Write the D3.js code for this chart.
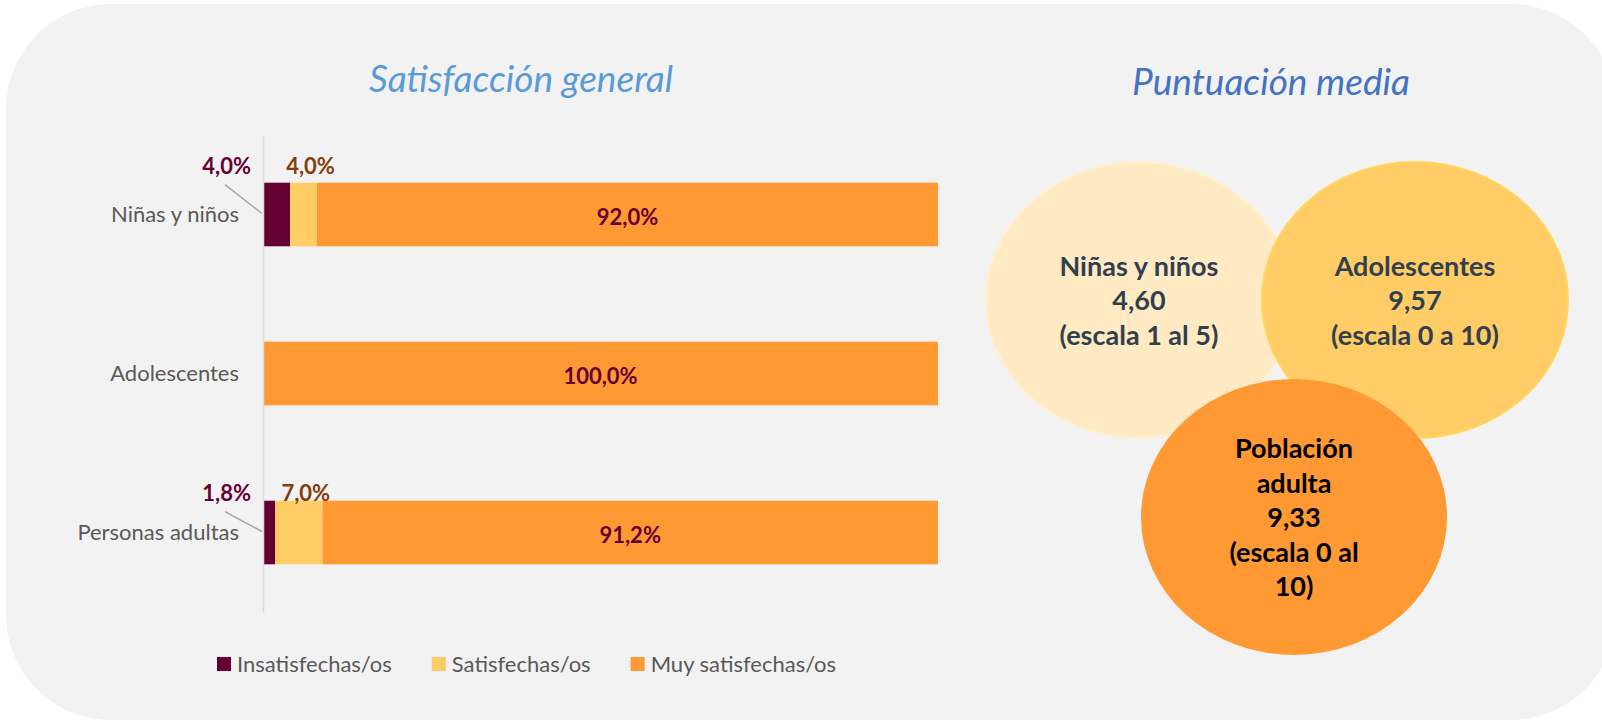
<!DOCTYPE html>
<html>
<head>
<meta charset="utf-8">
<script src="https://cdn.jsdelivr.net/npm/d3@7"></script>
<style>
  html, body { margin: 0; padding: 0; background: #fff; }
  svg { display: block; }
</style>
</head>
<body>
<script>
// データ
const categories = ["Niñas y niños", "Adolescentes", "Personas adultas"];
const seriesNames = ["Insatisfechas/os", "Satisfechas/os", "Muy satisfechas/os"];
const insatisfechas = [4.0, 0, 1.8];
const satisfechas = [4.0, 0, 7.0];
const muySatisfechas = [92.0, 100.0, 91.2];

const bubbleGroups = ["Niñas y niños", "Adolescentes", "Población\nadulta"];
const bubbleScores = [4.60, 9.57, 9.33];
const bubbleScales = ["(escala 1 al 5)", "(escala 0 a 10)", "(escala 0 al\n10)"];

// レイアウト
const width = 1602;
const height = 722;
const font = "Lato, 'Open Sans', sans-serif";
const barColors = ["#660033", "#ffcc66", "#ff9933"];
const smallLabelColors = ["#660033", "#843c0c"];
const labelLift = [9, 0, 0];
const bubbleLayout = [
  { cx: 1139, cy: 300, fill: "#ffeac3", stroke: "#fff0d4", text: "#323f4f" },
  { cx: 1415, cy: 300, fill: "#ffcc66", stroke: "#ffd65c", text: "#323f4f" },
  { cx: 1294, cy: 517, fill: "#ff9933", stroke: "none", text: "#000000" }
];

const svg = d3.select(document.body)
  .append("svg")
  .attr("width", width)
  .attr("height", height)
  .style("background", "#fff");

// 背景パネル
svg.append("rect")
  .attr("x", 6)
  .attr("y", 4)
  .attr("width", 1610)
  .attr("height", 716)
  .attr("rx", 105)
  .attr("fill", "#f2f2f2");

// ---- 左: 積み上げ横棒 ----
const rows = categories.map((c, i) => ({
  cat: c,
  [seriesNames[0]]: insatisfechas[i],
  [seriesNames[1]]: satisfechas[i],
  [seriesNames[2]]: muySatisfechas[i]
}));
const stacked = d3.stack().keys(seriesNames)(rows);

const x = d3.scaleLinear().domain([0, 100]).range([263, 938]);
const y = d3.scaleBand().domain(categories).range([135, 612])
  .paddingInner(0.6).paddingOuter(0.3);
const fmt = v => d3.format(".1f")(v).replace(".", ",") + "%";

svg.append("text")
  .attr("x", 521)
  .attr("y", 92)
  .attr("text-anchor", "middle")
  .attr("font-family", font)
  .attr("font-style", "italic")
  .attr("font-size", "37px")
  .attr("fill", "#5b9bd5")
  .text("Satisfacción general");

const barLayer = svg.append("g");
stacked.forEach((s, si) => {
  barLayer.selectAll(null)
    .data(s)
    .join("rect")
    .attr("x", d => x(d[0]))
    .attr("y", d => y(d.data.cat))
    .attr("width", d => x(d[1]) - x(d[0]))
    .attr("height", y.bandwidth())
    .attr("fill", barColors[si]);
});

// 軸
const axis = svg.append("g")
  .attr("transform", `translate(${x(0)},0)`)
  .call(d3.axisLeft(y).tickSize(0).tickSizeOuter(0).tickPadding(24));
axis.select(".domain").attr("stroke", "#d9d9d9").attr("stroke-width", 1.5);
axis.selectAll("text")
  .attr("font-family", font)
  .attr("font-size", "22px")
  .attr("fill", "#595959");

// 値ラベル
stacked.forEach((s, si) => {
  s.forEach((d, ci) => {
    const v = d[1] - d[0];
    if (v <= 0) return;
    const top = y(d.data.cat);
    const t = svg.append("text")
      .attr("font-family", font)
      .attr("font-weight", "bold")
      .attr("font-size", "22px")
      .text(fmt(v));
    if (si === 2) {
      t.attr("x", x((d[0] + d[1]) / 2))
        .attr("y", top + y.bandwidth() / 2 + 10)
        .attr("text-anchor", "middle")
        .attr("fill", "#660033");
    } else if (si === 0) {
      const base = top - labelLift[ci];
      t.attr("x", x(0) - 12)
        .attr("y", base)
        .attr("text-anchor", "end")
        .attr("fill", smallLabelColors[0]);
      // 引き出し線
      svg.append("line")
        .attr("x1", x(0) - 38)
        .attr("y1", base + 11)
        .attr("x2", x(0) - 1)
        .attr("y2", top + y.bandwidth() / 2 - 1)
        .attr("stroke", "#a6a6a6")
        .attr("stroke-width", 1.5);
    } else {
      t.attr("x", x((d[0] + d[1]) / 2) + 7)
        .attr("y", top - labelLift[ci])
        .attr("text-anchor", "middle")
        .attr("fill", smallLabelColors[1]);
    }
  });
});

// 凡例
const legend = svg.append("g").attr("transform", "translate(217,664)");
let lx = 0;
seriesNames.forEach((name, i) => {
  const g = legend.append("g").attr("transform", `translate(${lx},0)`);
  g.append("rect")
    .attr("x", 0).attr("y", -7)
    .attr("width", 14).attr("height", 14)
    .attr("fill", barColors[i]);
  const t = g.append("text")
    .attr("x", 20)
    .attr("y", 8)
    .attr("font-family", font)
    .attr("font-size", "22px")
    .attr("fill", "#595959")
    .text(name);
  lx += 20 + t.node().getComputedTextLength() + 40;
});

// ---- 右: 平均点バブル ----
svg.append("text")
  .attr("x", 1271)
  .attr("y", 95)
  .attr("text-anchor", "middle")
  .attr("font-family", font)
  .attr("font-style", "italic")
  .attr("font-size", "37px")
  .attr("fill", "#4472c4")
  .text("Puntuación media");

const lineH = 34.5;
bubbleGroups.forEach((g, i) => {
  const b = bubbleLayout[i];
  svg.append("ellipse")
    .attr("cx", b.cx)
    .attr("cy", b.cy)
    .attr("rx", 153)
    .attr("ry", 138)
    .attr("fill", b.fill)
    .attr("stroke", b.stroke)
    .attr("stroke-width", 2);

  const lines = [
    ...g.split("\n"),
    d3.format(".2f")(bubbleScores[i]).replace(".", ","),
    ...bubbleScales[i].split("\n")
  ];
  const y0 = b.cy - (lines.length - 1) / 2 * lineH + 10;
  const t = svg.append("text")
    .attr("text-anchor", "middle")
    .attr("font-family", font)
    .attr("font-weight", "bold")
    .attr("font-size", "27px")
    .attr("fill", b.text);
  lines.forEach((ln, k) => {
    t.append("tspan")
      .attr("x", b.cx)
      .attr("y", y0 + k * lineH)
      .text(ln);
  });
});
</script>
</body>
</html>
